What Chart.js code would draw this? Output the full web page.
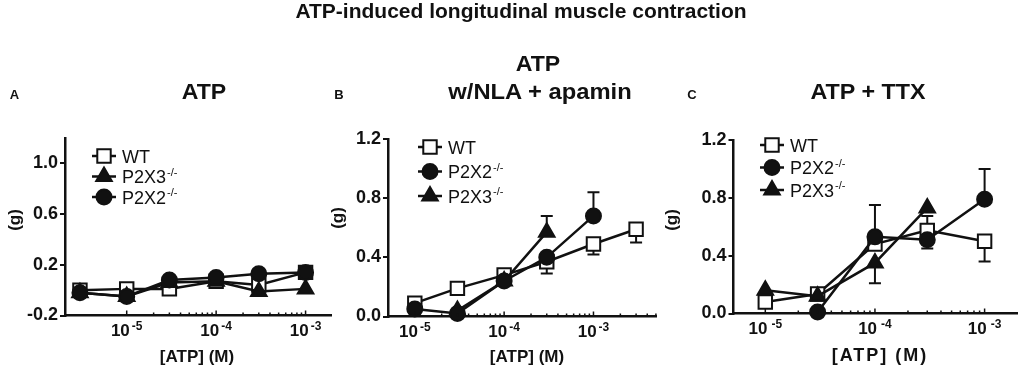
<!DOCTYPE html>
<html>
<head>
<meta charset="utf-8">
<script src="https://cdn.jsdelivr.net/npm/chart.js@4.4.1/dist/chart.umd.min.js"></script>
<style>
body { margin:0; background:#fff; width:1029px; height:370px; position:relative; overflow:hidden;
       font-family:"Liberation Sans", Arial, sans-serif; }
canvas { position:absolute; top:0; }
.t { position:absolute; white-space:nowrap; font-weight:bold; color:#111; line-height:1; }
</style>
</head>
<body>
<canvas id="cA" width="343" height="370" style="left:0"></canvas>
<canvas id="cB" width="350" height="370" style="left:325px"></canvas>
<canvas id="cC" width="359" height="370" style="left:670px"></canvas>
<script>
// DATOS
const concA  = [3e-6, 1e-5, 3e-5, 1e-4, 3e-4, 1e-3];
const wtA    = [0.00, 0.01, 0.01, 0.07, 0.04, 0.14];
const p2x3A  = [-0.02, -0.05, 0.06, 0.07, -0.01, 0.01];
const p2x2A  = [-0.02, -0.05, 0.08, 0.10, 0.13, 0.14];

const concB  = [1e-5, 3e-5, 1e-4, 3e-4, 1e-3, 3e-3];
const wtB    = [0.09, 0.19, 0.28, 0.37, 0.49, 0.59];
const wtBLo  = [0, 0, 0, 0.08, 0.07, 0.09];
const p2x2B  = [0.05, 0.02, 0.24, 0.40, 0.68, null];
const p2x2BUp = [0, 0, 0, 0, 0.16, 0];
const p2x3B  = [null, 0.04, 0.24, 0.57, null, null];
const p2x3BUp = [0, 0, 0, 0.11, 0, 0];

const concC  = [1e-5, 3e-5, 1e-4, 3e-4, 1e-3];
const wtC    = [0.08, 0.135, 0.48, 0.575, 0.50];
const wtCUp  = [0, 0, 0, 0.10, 0];
const wtCLo  = [0, 0, 0, 0, 0.14];
const p2x2C  = [null, 0.01, 0.53, 0.51, 0.79];
const p2x2CUp = [0, 0, 0.22, 0, 0.21];
const p2x2CLo = [0, 0, 0, 0.06, 0];
const p2x3C  = [0.16, 0.12, 0.35, 0.73, null];
const p2x3CLo = [0, 0, 0.14, 0, 0];

// Ejes
const yTicksA = [-0.2, 0.2, 0.6, 1.0];
const yTicksBC = [0.0, 0.4, 0.8, 1.2];
const xMajor = [1e-5, 1e-4, 1e-3];
const xExpLabels = ['-5', '-4', '-3'];

const FONT = '"Liberation Sans", Arial, sans-serif';
const NEGRO = '#111';

// Estilos de las series
const WT   = { label:'WT',   style:'rect',     r:9.5, fill:'#fff' };
const P2X2 = { label:'P2X2', style:'circle',   r:7.5, fill:NEGRO };
const P2X3 = { label:'P2X3', style:'triangle', r:9,   fill:NEGRO };

const paneles = {
  cA: { conc:concA, xMin:Math.pow(10,-5.69), xMax:Math.pow(10,-2.71), yMin:-0.2, yMax:1.2, yTicks:yTicksA,
        area:{left:65, top:138, right:332, bottom:315.5}, legend:{x:104, y:156, gap:20.5}, expGap:2,
        series:[ {...WT, values:wtA, order:3}, {...P2X3, values:p2x3A, order:2}, {...P2X2, values:p2x2A, order:1} ] },
  cB: { conc:concB, xMin:Math.pow(10,-5.3), xMax:Math.pow(10,-2.3), yMin:0, yMax:1.2, yTicks:yTicksBC,
        area:{left:63, top:139, right:331, bottom:316.5}, legend:{x:105, y:147, gap:24.5}, expGap:2,
        series:[ {...WT, values:wtB, lo:wtBLo, order:3}, {...P2X2, values:p2x2B, up:p2x2BUp, order:1}, {...P2X3, values:p2x3B, up:p2x3BUp, order:2} ] },
  cC: { conc:concC, xMin:Math.pow(10,-5.29), xMax:Math.pow(10,-2.70), yMin:0, yMax:1.2, yTicks:yTicksBC,
        area:{left:63.5, top:140, right:358, bottom:313.5}, legend:{x:102, y:145, gap:22.5}, expGap:4,
        series:[ {...WT, values:wtC, up:wtCUp, lo:wtCLo, order:3}, {...P2X2, values:p2x2C, up:p2x2CUp, lo:p2x2CLo, order:1}, {...P2X3, values:p2x3C, lo:p2x3CLo, order:2} ] }
};

// Plugin: marcas del eje x, etiquetas 10^n, barras de error y leyenda
function crearExtras(p) {
  return {
    id: 'extras',
    beforeDatasetsDraw(chart) {
      const {ctx, scales:{x, y}} = chart;
      ctx.save();
      ctx.strokeStyle = NEGRO; ctx.lineWidth = 2;
      p.series.forEach(s => {
        p.conc.forEach((c, i) => {
          const v = s.values[i];
          if (v === null) return;
          const px = x.getPixelForValue(c);
          [[s.up, 1], [s.lo, -1]].forEach(([arr, dir]) => {
            if (!arr || !arr[i]) return;
            const py0 = y.getPixelForValue(v), py1 = y.getPixelForValue(v + dir * arr[i]);
            ctx.beginPath();
            ctx.moveTo(px, py0); ctx.lineTo(px, py1);
            ctx.moveTo(px - 6, py1); ctx.lineTo(px + 6, py1);
            ctx.stroke();
          });
        });
      });
      ctx.restore();
    },
    afterDraw(chart) {
      const {ctx, scales:{x}} = chart;
      const base = chart.chartArea.bottom;
      ctx.save();
      ctx.strokeStyle = NEGRO; ctx.fillStyle = NEGRO;
      // marcas hacia adentro
      ctx.lineWidth = 1.5;
      for (let e = -5; e <= -3; e++) {
        for (let k = 1; k <= 9; k++) {
          const v = k * Math.pow(10, e);
          if (v < xMajor[0] * 0.999 || v > p.xMax) continue;
          const px = x.getPixelForValue(v);
          ctx.beginPath();
          ctx.moveTo(px, base); ctx.lineTo(px, base - (k === 1 ? 5 : 3));
          ctx.stroke();
        }
      }
      // etiquetas 10^n
      ctx.textBaseline = 'alphabetic';
      xMajor.forEach((v, i) => {
        const px = x.getPixelForValue(v);
        ctx.font = 'bold 17px ' + FONT;
        const w1 = ctx.measureText('10').width;
        ctx.font = 'bold 12px ' + FONT;
        const w2 = ctx.measureText(xExpLabels[i]).width;
        const x0 = px - (w1 + p.expGap + w2) / 2;
        ctx.font = 'bold 17px ' + FONT;
        ctx.fillText('10', x0, base + 20.5);
        ctx.font = 'bold 12px ' + FONT;
        ctx.fillText(xExpLabels[i], x0 + w1 + p.expGap, base + 14);
      });
      // leyenda
      const L = p.legend;
      p.series.forEach((s, i) => {
        const ly = L.y + i * L.gap;
        ctx.lineWidth = 2.5;
        ctx.beginPath(); ctx.moveTo(L.x - 12, ly); ctx.lineTo(L.x + 12, ly); ctx.stroke();
        ctx.fillStyle = s.fill; ctx.strokeStyle = NEGRO;
        ctx.lineWidth = 2;
        Chart.helpers.drawPoint(ctx, {pointStyle:s.style, radius:s.r, borderWidth:2, rotation:0}, L.x, ly);
        ctx.fillStyle = NEGRO;
        ctx.font = '18px ' + FONT;
        const tx = L.x + 18;
        ctx.fillText(s.label, tx, ly + 6.7);
        if (s.label !== 'WT') {
          const w = ctx.measureText(s.label).width;
          ctx.font = '11px ' + FONT;
          ctx.fillText('-/-', tx + w + 1, ly - 1);
        }
      });
      ctx.restore();
    }
  };
}

function crearPanel(id) {
  const p = paneles[id];
  const canvas = document.getElementById(id);
  const W = canvas.width, H = canvas.height;
  const alturaX = 30;
  const datasets = p.series.map(s => ({
    label: s.label,
    data: p.conc.map((c, i) => ({x:c, y:s.values[i]})).filter(d => d.y !== null),
    borderColor: NEGRO, borderWidth: 2.5,
    backgroundColor: s.fill,
    pointStyle: s.style, pointRadius: s.r,
    pointBackgroundColor: s.fill, pointBorderColor: NEGRO, pointBorderWidth: 2,
    tension: 0, clip: false, order: s.order
  }));

  new Chart(canvas.getContext('2d'), {
    type: 'line',
    data: { datasets: datasets },
    options: {
      responsive: false, animation: false, devicePixelRatio: 1,
      layout: { padding: { left: 0, top: p.area.top, right: W - p.area.right, bottom: H - p.area.bottom - alturaX } },
      plugins: { legend: { display:false }, tooltip: { enabled:false } },
      scales: {
        x: {
          type: 'logarithmic', min: p.xMin, max: p.xMax,
          afterFit: s => { s.height = alturaX; },
          ticks: { display: false },
          grid: { display: true, drawOnChartArea: false, drawTicks: false, tickLength: 0, color: NEGRO },
          border: { display: true, color: NEGRO, width: 2.5 }
        },
        y: {
          type: 'linear', min: p.yMin, max: p.yMax,
          afterBuildTicks: s => { s.ticks = p.yTicks.map(v => ({value:v})); },
          afterFit: s => { s.width = p.area.left; },
          ticks: { color: NEGRO, padding: 2, font: { family: FONT, size: 18, weight: 'bold' },
                   callback: v => Number(v).toFixed(1) },
          grid: { drawOnChartArea: false, drawTicks: true, tickLength: 5, color: NEGRO, lineWidth: 2 },
          border: { display: true, color: NEGRO, width: 2.5 }
        }
      }
    },
    plugins: [crearExtras(p)]
  });
}

// Textos de la figura (x = centro, b = línea base)
const textos = [
  { t:'ATP-induced longitudinal muscle contraction', x:521, b:18, s:21 },
  { t:'A', x:14.5, b:99, s:13 }, { t:'B', x:339, b:99, s:13 }, { t:'C', x:692, b:99, s:13 },
  { t:'ATP', x:204, b:100, s:22, sx:1.05 },
  { t:'ATP', x:538, b:72, s:22, sx:1.05 }, { t:'w/NLA + apamin', x:540, b:100, s:22, sx:1.08 },
  { t:'ATP + TTX', x:868, b:100, s:22, sx:1.06 },
  { t:'[ATP] (M)', x:197, b:362, s:17 }, { t:'[ATP] (M)', x:527, b:362, s:17 },
  { t:'[ATP] (M)', x:880, b:361.5, s:18, ls:2 },
  { t:'(g)', x:14, y:220, s:17, rot:true }, { t:'(g)', x:337, y:218, s:17, rot:true }, { t:'(g)', x:671, y:220, s:17, rot:true }
];

addEventListener('DOMContentLoaded', () => {
  textos.forEach(o => {
    const d = document.createElement('div');
    d.className = 't';
    d.textContent = o.t;
    d.style.fontSize = o.s + 'px';
    if (o.ls) d.style.letterSpacing = o.ls + 'px';
    d.style.left = o.x + 'px';
    if (o.rot) {
      d.style.top = o.y + 'px';
      d.style.transform = 'translate(-50%,-50%) rotate(-90deg)';
    } else {
      d.style.top = (o.b - 0.8465 * o.s) + 'px';
      d.style.transform = 'translateX(-50%)' + (o.sx ? ' scaleX(' + o.sx + ')' : '');
    }
    document.body.appendChild(d);
  });
  ['cA', 'cB', 'cC'].forEach(crearPanel);
});
</script>
</body>
</html>
